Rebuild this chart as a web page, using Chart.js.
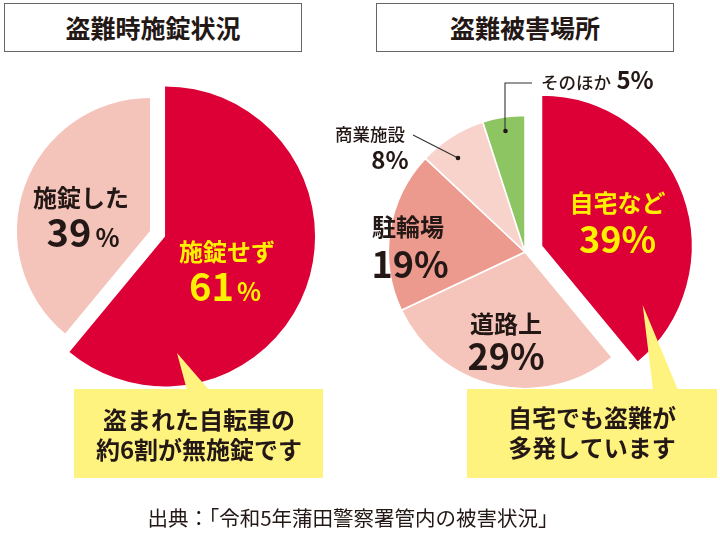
<!DOCTYPE html>
<html lang="ja">
<head>
<meta charset="utf-8">
<script src="https://cdn.jsdelivr.net/npm/chart.js@4.4.1/dist/chart.umd.min.js"></script>
<style>
  html, body { margin:0; padding:0; background:#fff; }
  body { width:720px; height:542px; position:relative; overflow:hidden;
         font-family:"Noto Sans CJK JP","Noto Sans",sans-serif; color:#231815; }
  canvas { position:absolute; z-index:1; }
  .title { position:absolute; box-sizing:border-box; border:1.5px solid #666; background:#fff;
           font-size:25px; font-weight:bold; line-height:46px; text-align:center; z-index:2; }
  .callout { position:absolute; background:#FFF380; z-index:2; }
  .ctext { position:absolute; width:260px; text-align:center; font-size:24px; font-weight:bold;
           line-height:30px; z-index:4; color:#231815; }
  .lbl { position:absolute; width:200px; text-align:center; font-weight:bold; z-index:4; white-space:nowrap; }
  svg { position:absolute; left:0; top:0; z-index:3; }
  .src { position:absolute; width:720px; left:-7px; text-align:center; font-size:20.5px; line-height:20px; z-index:4; color:#231815; }
</style>
</head>
<body>
<div class="title" style="left:4px;top:3px;width:298px;height:49px;">盗難時施錠状況</div>
<div class="title" style="left:376px;top:3px;width:298px;height:49px;">盗難被害場所</div>

<canvas id="lockChart" width="340" height="340" style="left:-20px;top:61px;width:340px;height:340px;"></canvas>
<canvas id="placeChart" width="380" height="360" style="left:335px;top:72px;width:380px;height:360px;"></canvas>

<div class="callout" style="left:74px;top:389px;width:249px;height:89px;"></div>
<div class="callout" style="left:467px;top:389px;width:250px;height:89px;"></div>

<svg width="720" height="542" viewBox="0 0 720 542">
  <polygon points="177,353 187,390 209,390" fill="#FFF380"/>
  <polygon points="642.7,305 653,390 678,390" fill="#FFF380"/>
  <polyline points="532,83 505,83 505,131" fill="none" stroke="#333" stroke-width="1.1"/>
  <circle cx="505.5" cy="131" r="2.3" fill="#231815"/>
  <line x1="413" y1="135" x2="458" y2="158" stroke="#333" stroke-width="1.1"/>
  <circle cx="458" cy="158" r="2.3" fill="#231815"/>
</svg>

<div class="ctext" style="left:69px;top:404px;">盗まれた自転車の<br>約6割が無施錠です</div>
<div class="ctext" style="left:462px;top:402px;">自宅でも盗難が<br>多発しています</div>

<div id="labels"></div>

<div class="src" style="top:507px;">出典：「令和5年蒲田警察署管内の被害状況」</div>

<script>
// ---- data ----
const lockCategories = ['施錠せず', '施錠した'];
const lockValues = [61, 39];
const placeCategories = ['自宅など', '道路上', '駐輪場', '商業施設', 'そのほか'];
const placeValues = [39, 29, 19, 8, 5];

// ---- styles ----
const lockColors = ['#DC0036', '#F4C4BA'];
const placeColors = ['#DC0036', '#F5C4BA', '#ED9A8E', '#F8D3CC', '#8DC562'];

// plugin: per-slice explode distance and radius scale
const sliceShape = {
  id: 'sliceShape',
  beforeDatasetDraw(chart, args) {
    const meta = args.meta;
    const ds = chart.data.datasets[args.index];
    const ctrl = meta.controller;
    const area = chart.chartArea;
    const cx = (area.left + area.right) / 2 + (ctrl.offsetX || 0);
    const cy = (area.top + area.bottom) / 2 + (ctrl.offsetY || 0);
    meta.data.forEach((arc, i) => {
      const mid = (arc.startAngle + arc.endAngle) / 2;
      const e = ds.explode ? ds.explode[i] : 0;
      arc.x = cx + Math.cos(mid) * e;
      arc.y = cy + Math.sin(mid) * e;
      arc.outerRadius = ctrl.outerRadius * (ds.radiusScale ? ds.radiusScale[i] : 1);
    });
  }
};

const commonOptions = {
  responsive: false,
  animation: false,
  events: [],
  layout: { padding: 0 },
  plugins: { legend: { display: false }, tooltip: { enabled: false } }
};

new Chart(document.getElementById('lockChart'), {
  type: 'pie',
  data: {
    labels: lockCategories,
    datasets: [{
      data: lockValues,
      backgroundColor: lockColors,
      borderWidth: 0,
      radius: 150,
      explode: [16, 0],
      radiusScale: [1, 0.887]
    }]
  },
  options: commonOptions,
  plugins: [sliceShape]
});

new Chart(document.getElementById('placeChart'), {
  type: 'pie',
  data: {
    labels: placeCategories,
    datasets: [{
      data: placeValues,
      backgroundColor: placeColors,
      borderColor: '#ffffff',
      borderWidth: 1.6,
      radius: 151,
      explode: [17.5, 0, 0, 0, 0],
      radiusScale: [1, 0.905, 0.905, 0.905, 0.905]
    }]
  },
  options: commonOptions,
  plugins: [sliceShape]
});

// ---- text labels (built from the data arrays) ----
const host = document.getElementById('labels');
function addLabel(html, cx, top, color) {
  const d = document.createElement('div');
  d.className = 'lbl';
  d.style.left = (cx - 100) + 'px';
  d.style.top = top + 'px';
  d.style.color = color;
  d.innerHTML = html;
  host.appendChild(d);
}
const dark = '#231815', yel = '#FFF000';
function nameHtml(t, f) { return `<div style="font-size:${f}px;line-height:${f}px">${t}</div>`; }
function numHtml(v, f, pf, gap) {
  return `<div style="font-size:${f}px;line-height:${f}px">${v}<span style="font-size:${pf}px;margin-left:${gap}px">%</span></div>`;
}
// left pie
addLabel(nameHtml(lockCategories[1], 24), 81, 185, dark);
addLabel(numHtml(lockValues[1], 38, 25, 4), 83, 212, dark);
addLabel(nameHtml(lockCategories[0], 24), 227, 239, yel);
addLabel(numHtml(lockValues[0], 38, 25, 3), 225, 266, yel);
// right pie
addLabel(nameHtml(placeCategories[0], 24), 617.5, 190, yel);
addLabel(numHtml(placeValues[0], 36, 36, 0), 617.5, 219, yel);
addLabel(nameHtml(placeCategories[2], 24), 408, 214, dark);
addLabel(numHtml(placeValues[2], 36, 36, 0), 410, 244, dark);
addLabel(nameHtml(placeCategories[1], 24), 506, 311, dark);
addLabel(numHtml(placeValues[1], 36, 36, 0), 506, 336, dark);
// small outside labels
(function(){
  const d = document.createElement('div');
  d.className = 'lbl';
  d.style.cssText = 'left:270px;top:125px;color:#231815;font-weight:500;';
  d.innerHTML = `<div style="font-size:17.5px;line-height:18px">${placeCategories[3]}</div>` +
                `<div style="font-size:24px;line-height:24px;font-weight:bold;margin-top:4px;margin-left:40px">${placeValues[3]}%</div>`;
  host.appendChild(d);
  const e = document.createElement('div');
  e.className = 'lbl';
  e.style.cssText = 'left:541px;top:67px;width:auto;text-align:left;color:#231815;font-size:24px;line-height:24px;';
  e.innerHTML = `<span style="font-size:17.5px;font-weight:500">${placeCategories[4]}</span> <span>${placeValues[4]}%</span>`;
  host.appendChild(e);
})();
</script>
</body>
</html>
